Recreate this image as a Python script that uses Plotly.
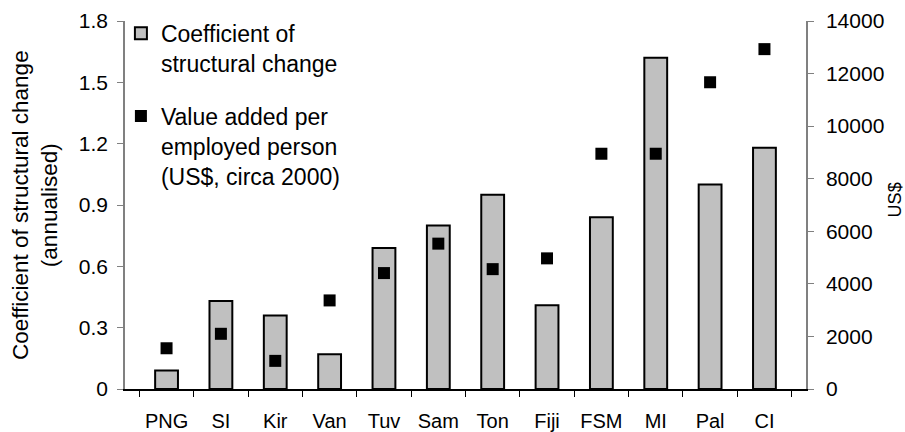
import plotly.graph_objects as go

categories = ["PNG", "SI", "Kir", "Van", "Tuv", "Sam", "Ton", "Fiji", "FSM", "MI", "Pal", "CI"]
coef_change = [0.09, 0.43, 0.36, 0.17, 0.69, 0.80, 0.95, 0.41, 0.84, 1.62, 1.00, 1.18]
value_added = [1550, 2100, 1070, 3370, 4410, 5530, 4560, 4970, 8950, 8950, 11670, 12930]

FONT = "Liberation Sans, Arial, sans-serif"
FS = 21

fig = go.Figure()
fig.add_trace(go.Bar(
    x=categories, y=coef_change,
    name="Coefficient of<br>structural change",
    legendgroup="a",
    marker=dict(color="#C0C0C0", line=dict(color="black", width=2)),
    width=0.42,
    yaxis="y",
))
fig.add_trace(go.Scatter(
    x=categories, y=value_added,
    name="Value added per<br>employed person<br>(US$, circa 2000)",
    legendgroup="b",
    mode="markers",
    marker=dict(symbol="square", size=12, color="black"),
    yaxis="y2",
))

fig.update_layout(
    width=905, height=432,
    margin=dict(l=125, r=99, t=21, b=43),
    paper_bgcolor="white", plot_bgcolor="white",
    font=dict(family=FONT, size=FS, color="black"),
    showlegend=True,
    legend=dict(
        x=-0.006, y=1.025, xanchor="left", yanchor="top",
        bgcolor="rgba(0,0,0,0)", font=dict(size=23),
        tracegroupgap=20, itemwidth=30, valign="top",
    ),
    xaxis=dict(
        type="category", automargin=False, tickangle=0,
        showline=True, linecolor="black", linewidth=1.5,
        ticks="outside", tickson="boundaries", ticklen=6, tickcolor="black",
        showgrid=False, ticklabelstandoff=13,
        tickfont=dict(size=20),
    ),
    yaxis=dict(
        range=[0, 1.8], dtick=0.3, tick0=0, automargin=False,
        showline=True, linecolor="#808080", linewidth=1.5,
        ticks="outside", ticklen=6, tickcolor="#808080",
        showgrid=False, zeroline=False,
        ticklabelstandoff=5, tickfont=dict(size=FS),
    ),
    yaxis2=dict(
        range=[0, 14000], dtick=2000, tick0=0, automargin=False,
        overlaying="y", side="right",
        showline=True, linecolor="#808080", linewidth=1.5,
        ticks="outside", ticklen=6, tickcolor="#808080",
        showgrid=False, zeroline=False, tickformat="d",
        ticklabelstandoff=8, tickfont=dict(size=FS),
    ),
    annotations=[
        dict(text="Coefficient of structural change<br>(annualised)",
             xref="paper", yref="paper", x=-0.132, y=0.5,
             xanchor="center", yanchor="middle", textangle=-90,
             showarrow=False, font=dict(size=22.5)),
        dict(text="US$", xref="paper", yref="paper", x=1.13, y=0.514,
             xanchor="center", yanchor="middle", textangle=-90,
             showarrow=False, font=dict(size=18)),
    ],
)

fig.write_html("out.html")
